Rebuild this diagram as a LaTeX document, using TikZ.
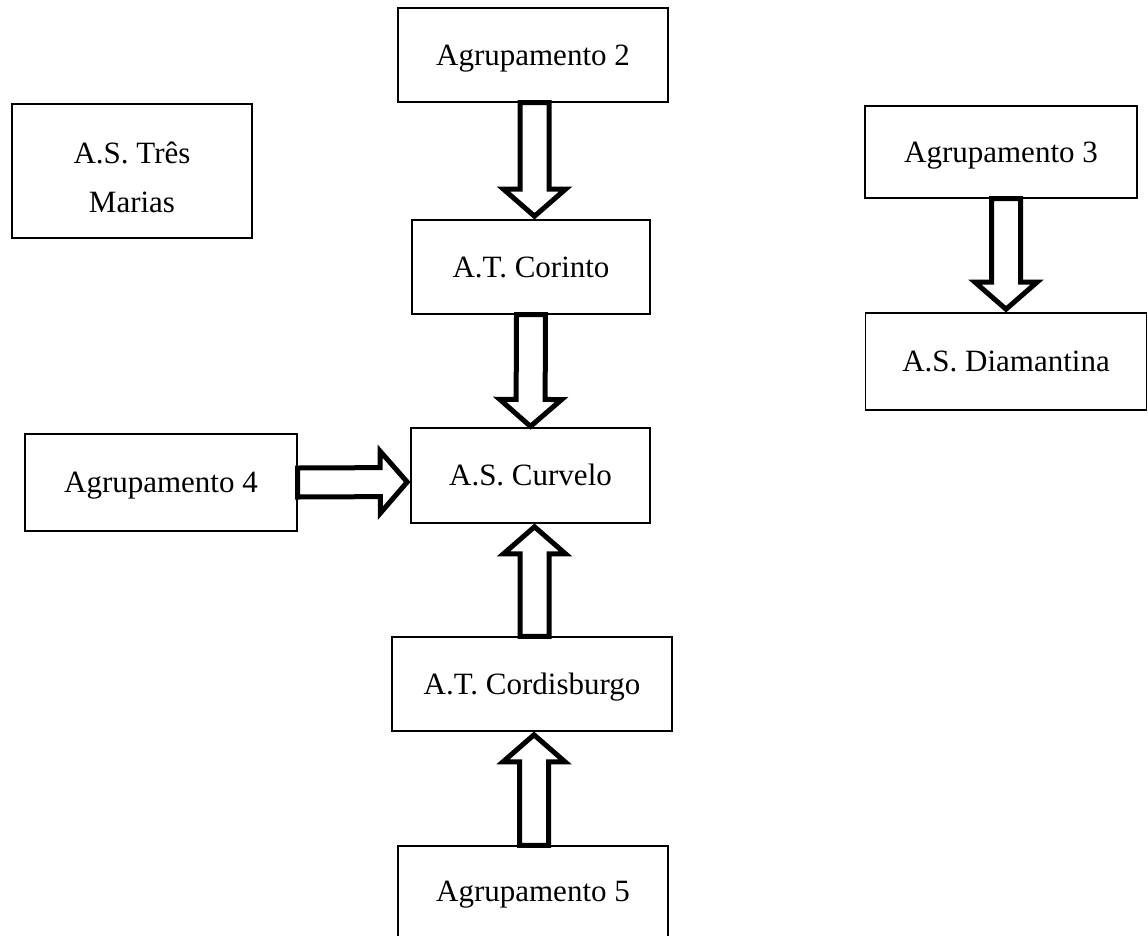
\documentclass[tikz,border=0pt]{standalone}
\usepackage{fontspec}
\setmainfont{Liberation Serif}
\usetikzlibrary{calc}

\tikzset{
  box/.style={draw=black, line width=1.2pt, fill=white, inner sep=0pt,
    font=\fontsize{31pt}{49pt}\selectfont, text height=20.5pt, text depth=0pt},
  blockarrow/.style={draw=black, line width=5pt, fill=white,
    line join=miter, miter limit=10},
}

% hollow block arrow from coordinate #1 (tail) to coordinate #2 (tip)
\newcommand\hollowarrow[2]{%
  \path ($(#2)!27pt!(#1)$) coordinate (hb);
  \draw[blockarrow]
    ($(#1)!14.5pt!90:(#2)$) -- ($(hb)!14.5pt!90:(#2)$) --
    ($(hb)!31pt!90:(#2)$) -- (#2) -- ($(hb)!31pt!-90:(#2)$) --
    ($(hb)!14.5pt!-90:(#2)$) -- ($(#1)!14.5pt!-90:(#2)$) -- cycle;}

\begin{document}
\begin{tikzpicture}[x=1pt, y=-1pt]
  \useasboundingbox (0,0) rectangle (1148,935);

  % boxes
  \node[box, minimum width=270pt, minimum height=94pt] (agr2) at (533,55) {Agrupamento 2};
  \node[box, minimum width=240pt, minimum height=134pt, align=center,
        text height=83.5pt, text depth=0pt] (tres) at (132,171) {A.S. Três\\Marias};
  \node[box, minimum width=272pt, minimum height=92pt] (agr3) at (1001,152) {Agrupamento 3};
  \node[box, minimum width=238pt, minimum height=94pt] (cor) at (531,267) {A.T. Corinto};
  \node[box, minimum width=281pt, minimum height=97pt] (dia) at (1006,361.5) {A.S. Diamantina};
  \node[box, minimum width=272pt, minimum height=97pt] (agr4) at (161,482.5) {Agrupamento 4};
  \node[box, minimum width=239pt, minimum height=95pt] (curv) at (530.5,475.5) {A.S. Curvelo};
  \node[box, minimum width=280pt, minimum height=94pt] (cordis) at (532,684) {A.T. Cordisburgo};
  % the lower edge of this box runs past the page edge
  \node[box, minimum width=270pt, minimum height=91pt] (agr5) at (533,891.5) {Agrupamento 5};

  % arrow end points
  \coordinate (a1s) at ([xshift=1.5pt]agr2.south);
  \coordinate (a1e) at ([xshift=3.5pt, yshift=3.2pt]cor.north);
  \coordinate (a2s) at (cor.south);
  \coordinate (a2e) at ([yshift=1pt]curv.north);
  \coordinate (a3s) at ([xshift=2.5pt]cordis.north);
  \coordinate (a3e) at ([xshift=4pt, yshift=-3.2pt]curv.south);
  \coordinate (a4s) at ([xshift=1pt]agr5.north);
  \coordinate (a4e) at ([xshift=2pt, yshift=-3.2pt]cordis.south);
  \coordinate (a5s) at (agr4.east);
  \coordinate (a5e) at ([xshift=-3.2pt, yshift=-6.5pt]curv.west);
  \coordinate (a6s) at ([xshift=5pt]agr3.south);
  \coordinate (a6e) at ([yshift=3.2pt]dia.north);

  % arrows
  \hollowarrow{a1s}{a1e}
  \hollowarrow{a2s}{a2e}
  \hollowarrow{a3s}{a3e}
  \hollowarrow{a4s}{a4e}
  \hollowarrow{a5s}{a5e}
  \hollowarrow{a6s}{a6e}
\end{tikzpicture}
\end{document}
